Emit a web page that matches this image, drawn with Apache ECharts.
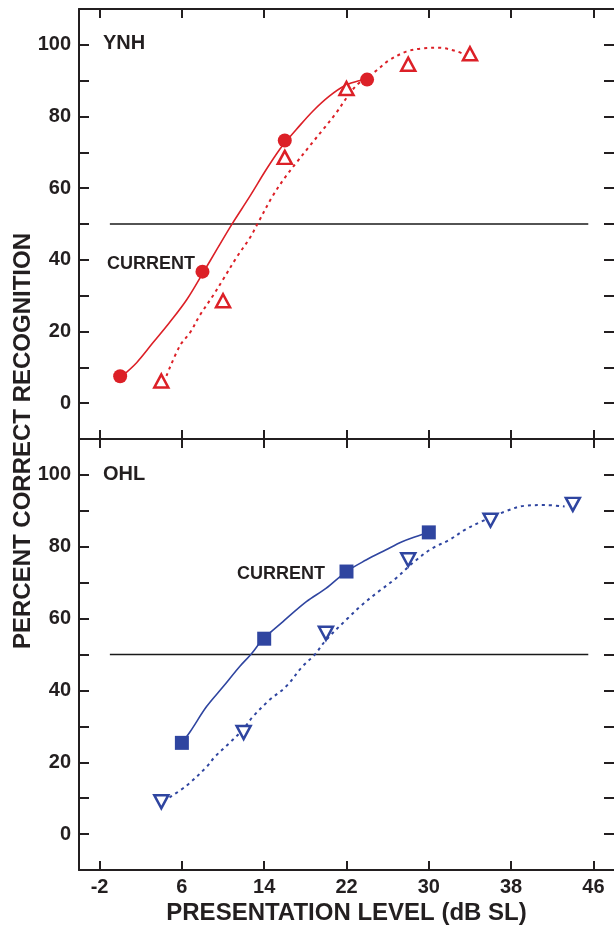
<!DOCTYPE html>
<html>
<head>
<meta charset="utf-8">
<script src="https://cdn.jsdelivr.net/npm/echarts@6/dist/echarts.min.js"></script>
<style>
  html, body { margin: 0; padding: 0; background: #ffffff; }
  #chart { width: 614px; height: 928px; }
</style>
</head>
<body>
<div id="chart"></div>
<script>
// Presentation level (dB SL) tick values and percent-correct tick values
const levelTicks = [-2, 6, 14, 22, 30, 38, 46];
const scoreTicks = [0, 20, 40, 60, 80, 100];

// YNH panel: measured points
const ynhCurrentLevel = [0, 8, 16, 24];
const ynhCurrentScore = [7.5, 36.7, 73.3, 90.3];
const ynhPriorLevel = [4, 10, 16, 22, 28, 34];
const ynhPriorScore = [6.2, 28.6, 68.6, 87.8, 94.6, 97.5];

// YNH panel: fitted performance-intensity curves
const ynhCurrentFitLevel = [0.2, 1.6, 3.2, 4.8, 6.5, 8.1, 9.4, 10.9, 12.6, 14.2, 15.5, 16.2, 17.1, 18.7, 20.3, 21.9, 23.2, 24.2];
const ynhCurrentFitScore = [7.6, 11.3, 16.9, 22.5, 29.0, 36.6, 42.9, 50.1, 57.7, 65.2, 70.8, 73.3, 76.3, 81.4, 85.6, 88.7, 90.0, 90.4];
const ynhPriorFitLevel = [4.5, 5.8, 6.8, 7.7, 9.0, 10.0, 11.3, 12.6, 13.4, 14.8, 16.1, 17.1, 18.4, 19.7, 21.0, 22.2, 23.2, 24.8, 26.1, 27.8, 29.4, 31.0, 32.6, 33.4];
const ynhPriorFitScore = [7.6, 16.0, 19.7, 24.3, 29.9, 34.5, 40.6, 46.1, 50.3, 57.7, 63.3, 67.0, 71.7, 76.3, 81.0, 86.0, 89.3, 92.6, 95.6, 98.1, 99.0, 99.2, 98.3, 97.4];

// OHL panel: measured points
const ohlCurrentLevel = [6, 14, 22, 30];
const ohlCurrentScore = [25.4, 54.4, 73.1, 84.0];
const ohlPriorLevel = [4, 12, 20, 28, 36, 44];
const ohlPriorScore = [9.0, 28.3, 55.9, 76.4, 87.4, 91.8];

// OHL panel: fitted performance-intensity curves
const ohlCurrentFitLevel = [6.0, 6.8, 8.4, 10.0, 11.6, 12.7, 13.9, 15.8, 18.1, 20.0, 22.0, 23.9, 25.8, 27.4, 28.7, 29.9];
const ohlCurrentFitScore = [25.4, 28.5, 35.5, 41.0, 46.6, 50.0, 54.3, 59.1, 64.7, 68.4, 73.1, 76.3, 79.1, 81.4, 82.8, 84.0];
const ohlPriorFitLevel = [4.8, 6.5, 8.4, 9.2, 10.6, 11.9, 12.9, 14.5, 16.1, 17.7, 18.9, 20.0, 22.2, 23.5, 25.1, 26.8, 28.4, 30.3, 32.0, 33.5, 35.1, 37.4, 39.3, 41.3, 43.2];
const ohlPriorFitScore = [10.2, 13.6, 18.7, 21.5, 25.3, 29.0, 32.7, 37.3, 41.0, 46.6, 49.9, 54.0, 60.3, 63.8, 67.5, 71.2, 75.4, 79.5, 81.9, 84.7, 87.0, 89.8, 91.4, 91.6, 91.2];

// 50% criterion line
const criterionLevel = [-1, 45.5];
const criterionScore = [50, 50];

const RED = '#dc2027';
const BLUE = '#2f45a0';
const INK = '#231f20';
const FONT = '"Liberation Sans", Arial, Helvetica, sans-serif';

const zip = (xs, ys) => xs.map((x, i) => [x, ys[i]]);

function levelAxis(grid, position, showLabels) {
  const axis = {
    type: 'value', gridIndex: grid, position: position,
    min: -4, max: 48,
    axisLine: { show: true, onZero: false, lineStyle: { color: INK, width: 2 } },
    axisTick: { show: true, inside: true, length: 9, customValues: levelTicks, lineStyle: { color: INK, width: 2 } },
    axisLabel: { show: showLabels, customValues: levelTicks, margin: 7, color: INK, fontFamily: FONT, fontWeight: 'bold', fontSize: 20 },
    splitLine: { show: false }
  };
  if (showLabels) {
    axis.name = 'PRESENTATION LEVEL (dB SL)';
    axis.nameLocation = 'middle';
    axis.nameGap = 31;
    axis.nameTextStyle = { color: INK, fontFamily: FONT, fontWeight: 'bold', fontSize: 24 };
  }
  return axis;
}

function scoreAxis(grid, position, showLabels) {
  return {
    type: 'value', gridIndex: grid, position: position,
    min: -10, max: 110, interval: 10,
    // the right-hand frame edge falls just past the page edge, so only its ticks show
    axisLine: { show: showLabels, onZero: false, lineStyle: { color: INK, width: 2 } },
    axisTick: { show: true, inside: true, length: 10, lineStyle: { color: INK, width: 2 } },
    axisLabel: { show: showLabels, customValues: scoreTicks, margin: 8, color: INK, fontFamily: FONT, fontWeight: 'bold', fontSize: 20 },
    splitLine: { show: false }
  };
}

function fitCurve(xi, yi, xs, ys, color, dotted) {
  return {
    type: 'line', xAxisIndex: xi, yAxisIndex: yi,
    data: zip(xs, ys), smooth: 0.35, symbol: 'none', z: 3,
    lineStyle: { color: color, width: dotted ? 2 : 1.6, type: dotted ? [3, 4] : 'solid' }
  };
}

function points(xi, yi, xs, ys, color, symbol, open, rotate) {
  return {
    type: 'scatter', xAxisIndex: xi, yAxisIndex: yi,
    data: zip(xs, ys), symbol: symbol, z: 5,
    symbolSize: open ? [14, 13] : 14,
    symbolRotate: rotate || 0,
    itemStyle: open
      ? { color: '#ffffff', borderColor: color, borderWidth: 2.5, opacity: 1 }
      : { color: color, opacity: 1 }
  };
}

function criterion(xi, yi) {
  return {
    type: 'line', xAxisIndex: xi, yAxisIndex: yi,
    data: zip(criterionLevel, criterionScore), symbol: 'none', z: 2,
    lineStyle: { color: '#1a1a1a', width: 1.3 }
  };
}

function panelText(x, y, text, size) {
  return {
    type: 'text', x: x, y: y, z: 10,
    style: { text: text, fill: INK, font: 'bold ' + size + 'px ' + FONT, textAlign: 'left', textVerticalAlign: 'middle' }
  };
}

const chart = echarts.init(document.getElementById('chart'), null, { renderer: 'canvas' });
chart.setOption({
  animation: false,
  backgroundColor: '#ffffff',
  grid: [
    { left: 79, top: 9, width: 537, height: 430 },
    { left: 79, top: 439, width: 537, height: 431 }
  ],
  xAxis: [
    levelAxis(0, 'bottom', false),
    levelAxis(0, 'top', false),
    levelAxis(1, 'bottom', true),
    levelAxis(1, 'top', false)
  ],
  yAxis: [
    scoreAxis(0, 'left', true),
    scoreAxis(0, 'right', false),
    scoreAxis(1, 'left', true),
    scoreAxis(1, 'right', false)
  ],
  series: [
    criterion(0, 0),
    fitCurve(0, 0, ynhCurrentFitLevel, ynhCurrentFitScore, RED, false),
    fitCurve(0, 0, ynhPriorFitLevel, ynhPriorFitScore, RED, true),
    points(0, 0, ynhCurrentLevel, ynhCurrentScore, RED, 'circle', false),
    points(0, 0, ynhPriorLevel, ynhPriorScore, RED, 'triangle', true),
    criterion(2, 2),
    fitCurve(2, 2, ohlCurrentFitLevel, ohlCurrentFitScore, BLUE, false),
    fitCurve(2, 2, ohlPriorFitLevel, ohlPriorFitScore, BLUE, true),
    points(2, 2, ohlCurrentLevel, ohlCurrentScore, BLUE, 'rect', false),
    points(2, 2, ohlPriorLevel, ohlPriorScore, BLUE, 'triangle', true, 180)
  ],
  graphic: [
    panelText(103, 43, 'YNH', 20),
    panelText(107, 264, 'CURRENT', 18),
    panelText(103, 474, 'OHL', 20),
    panelText(237, 574, 'CURRENT', 18),
    {
      type: 'text', x: 23, y: 441, rotation: Math.PI / 2, z: 10,
      style: { text: 'PERCENT CORRECT RECOGNITION', fill: INK, font: 'bold 24px ' + FONT, textAlign: 'center', textVerticalAlign: 'middle' }
    }
  ]
});
</script>
</body>
</html>
